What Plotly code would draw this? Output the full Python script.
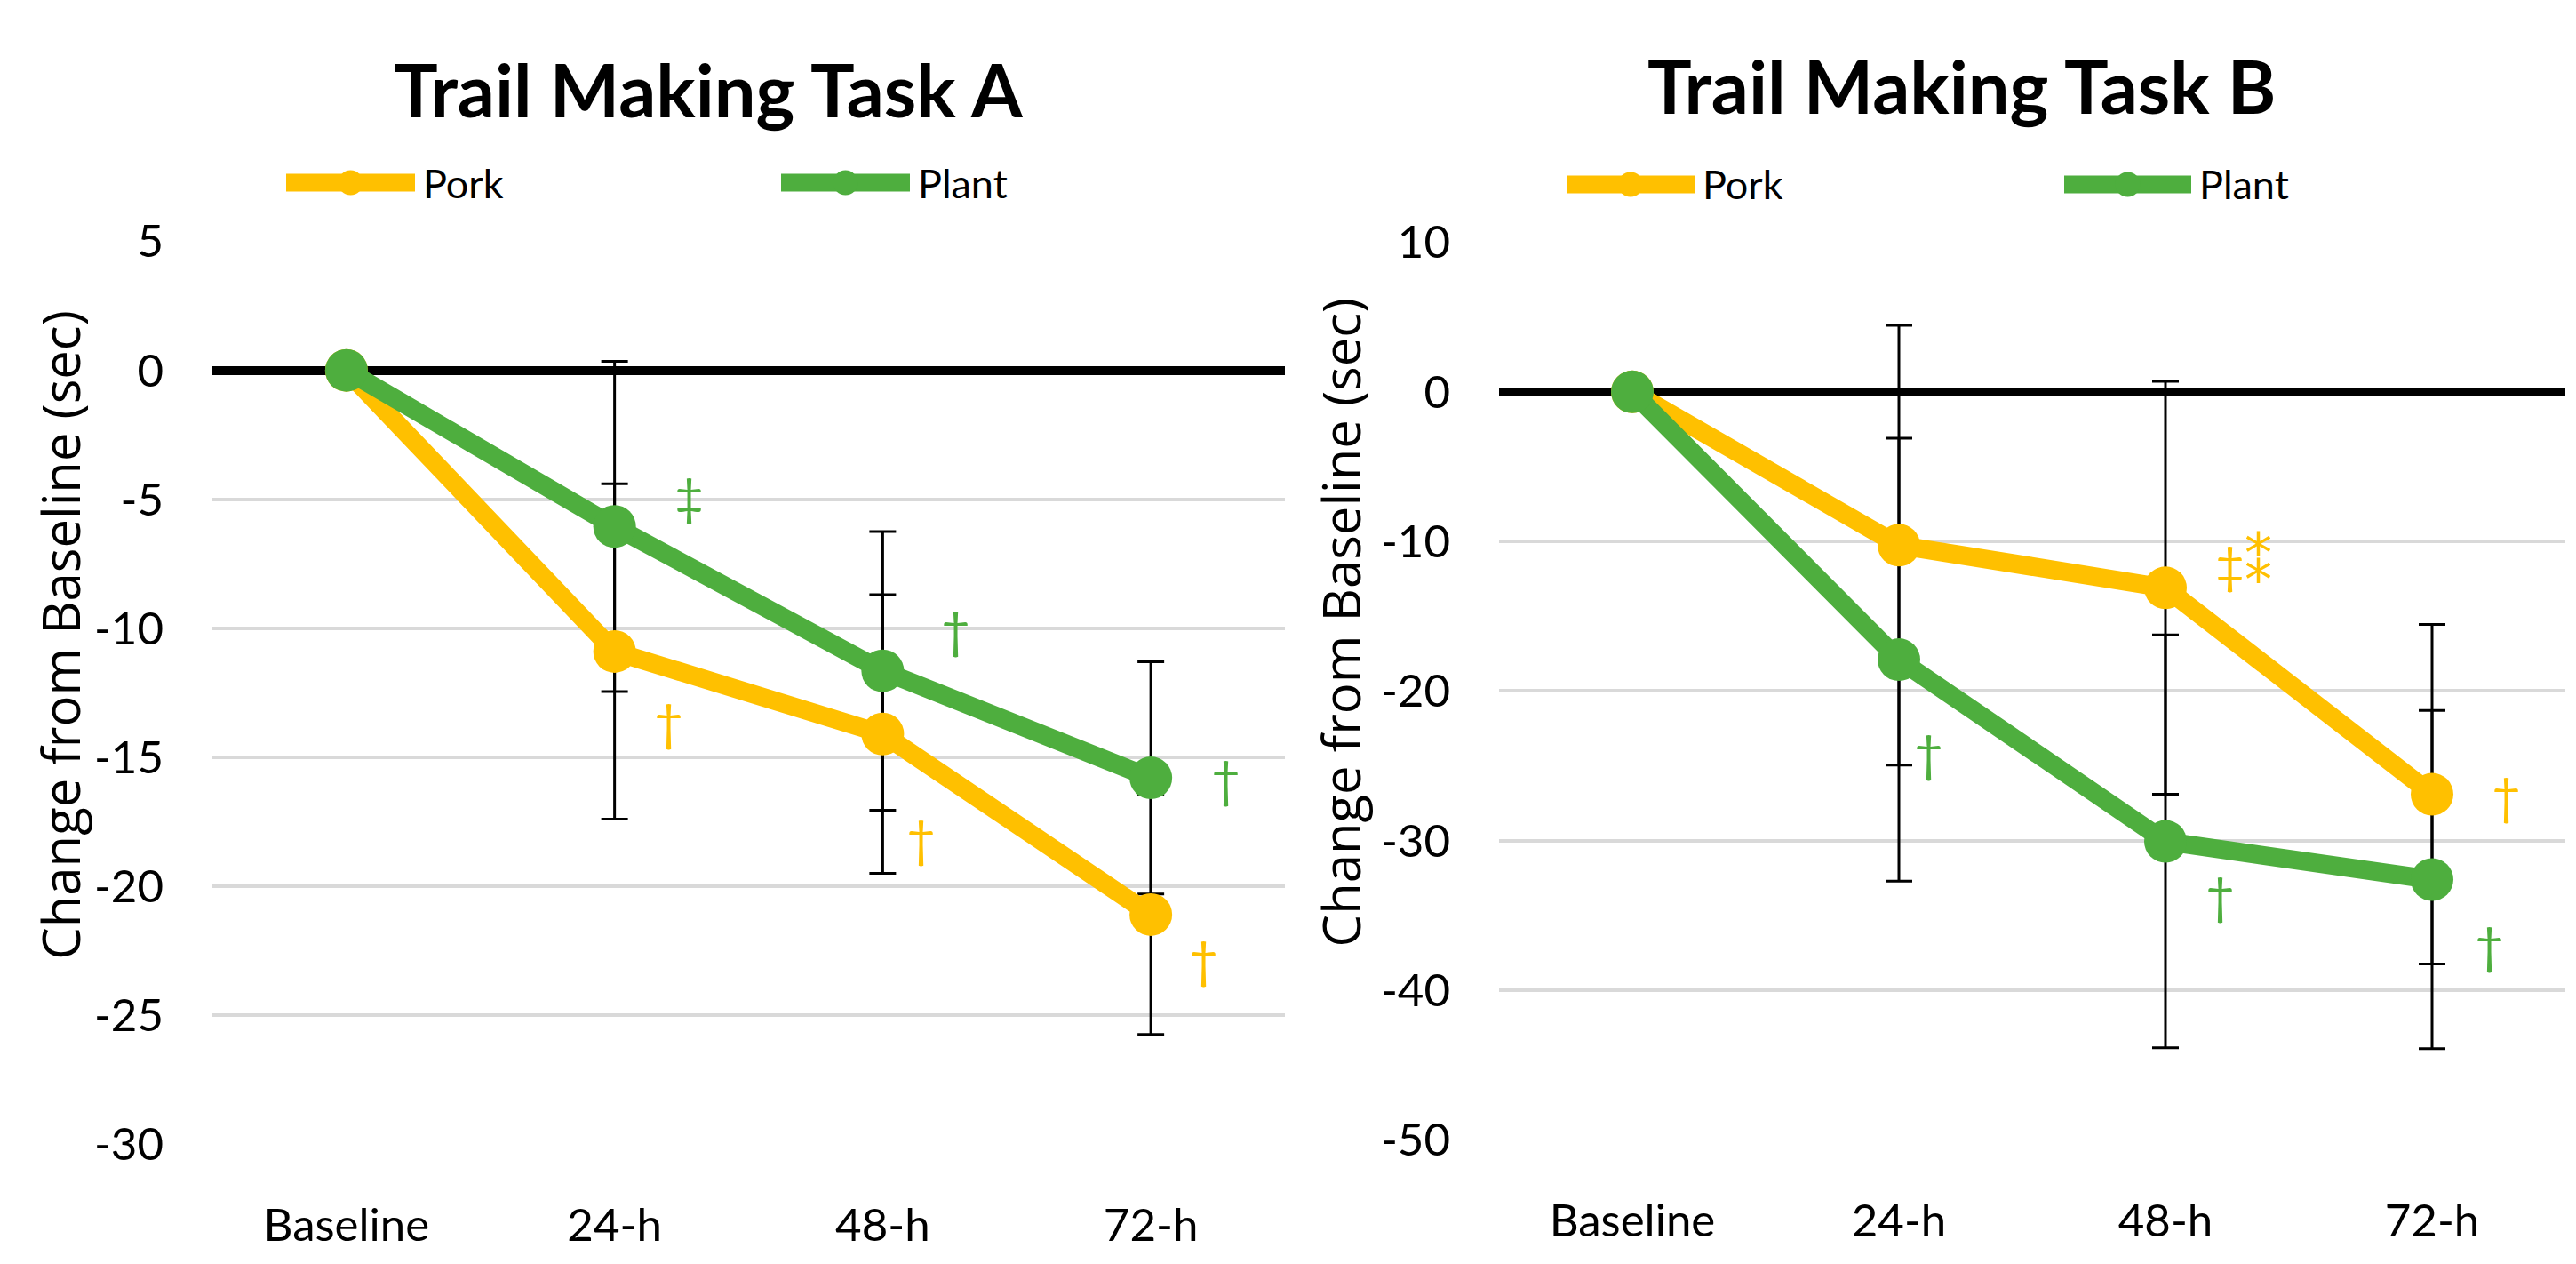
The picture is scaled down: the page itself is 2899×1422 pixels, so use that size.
import plotly.graph_objects as go

# time points on the x axis
time_points = ["Baseline", "24-h", "48-h", "72-h"]

# Trail Making Task A, change from baseline (sec), mean and error
task_a_pork = [0, -10.9, -14.1, -21.1]
task_a_pork_err = [0, 6.5, 5.4, 4.65]
task_a_plant = [0, -6.05, -11.65, -15.8]
task_a_plant_err = [0, 6.4, 5.4, 4.5]

# Trail Making Task B
task_b_pork = [0, -10.25, -13.1, -26.9]
task_b_pork_err = [0, 14.7, 13.8, 11.35]
task_b_plant = [0, -17.9, -30.05, -32.6]
task_b_plant_err = [0, 14.8, 13.8, 11.3]

# y ticks
a_tickvals = [5, 0, -5, -10, -15, -20, -25, -30]
a_ticktext = ["5", "0", "-5", "-10", "-15", "-20", "-25", "-30"]
b_tickvals = [10, 0, -10, -20, -30, -40, -50]
b_ticktext = ["10", "0", "-10", "-20", "-30", "-40", "-50"]

# significance marks: (text, group, time point, y)
sig_a = [("‡", "Plant", "24-h", -4.85), ("†", "Pork", "24-h", -13.6),
         ("†", "Plant", "48-h", -10.0), ("†", "Pork", "48-h", -18.1),
         ("†", "Plant", "72-h", -15.8), ("†", "Pork", "72-h", -22.8)]
sig_b = [("‡⁑", "Pork", "48-h", -11.5), ("†", "Plant", "24-h", -24.1),
         ("†", "Plant", "48-h", -33.6), ("†", "Pork", "72-h", -26.9),
         ("†", "Plant", "72-h", -36.9)]

PORK = "#FFC000"
PLANT = "#4EAE3E"
colors = {"Pork": PORK, "Plant": PLANT}
FONT = "Lato, Carlito, Calibri, sans-serif"
W, H = 2899, 1422

fig = go.Figure()


def add_panel(pork, pork_err, plant, plant_err, xa, ya):
    # error bars first so the markers sit on top of them
    for vals, errs in [(pork, pork_err), (plant, plant_err)]:
        fig.add_trace(go.Scatter(
            x=time_points, y=vals, mode="markers",
            marker=dict(size=1, opacity=0),
            error_y=dict(type="data", array=errs, visible=True,
                         color="black", thickness=3, width=15),
            xaxis=xa, yaxis=ya, showlegend=False, hoverinfo="skip"))
    for name, vals in [("Pork", pork), ("Plant", plant)]:
        fig.add_trace(go.Scatter(
            x=time_points, y=vals, mode="lines+markers", name=name,
            line=dict(color=colors[name], width=21),
            marker=dict(color=colors[name], size=48),
            xaxis=xa, yaxis=ya, showlegend=False))


add_panel(task_a_pork, task_a_pork_err, task_a_plant, task_a_plant_err, "x", "y")
add_panel(task_b_pork, task_b_pork_err, task_b_plant, task_b_plant_err, "x2", "y2")

xcommon = dict(type="category", categoryorder="array", categoryarray=time_points,
               range=[-0.5, 3.5], showgrid=False, showline=False, zeroline=False,
               ticks="", ticklabelstandoff=57,
               tickfont=dict(family=FONT, size=51, color="black"))
ycommon = dict(showgrid=True, gridcolor="#D9D9D9", gridwidth=4,
               zeroline=True, zerolinecolor="black", zerolinewidth=10,
               showline=False, ticks="", ticklabelstandoff=54,
               tickfont=dict(family=FONT, size=51, color="black"))

fig.update_layout(
    width=W, height=H, margin=dict(l=0, r=0, t=0, b=0),
    paper_bgcolor="white", plot_bgcolor="white", showlegend=False,
    xaxis=dict(domain=[231 / W, 1438 / W], anchor="y", **xcommon),
    yaxis=dict(domain=[1 - 1303 / H, 1 - 242 / H], anchor="x", range=[-30, 5],
               tickvals=a_tickvals, ticktext=a_ticktext, **ycommon),
    xaxis2=dict(domain=[1679 / W, 2879 / W], anchor="y2", **xcommon),
    yaxis2=dict(domain=[1 - 1298 / H, 1 - 243 / H], anchor="x2", range=[-50, 10],
                tickvals=b_tickvals, ticktext=b_ticktext, **ycommon),
)

# panel titles and y axis titles
for text, x, y in [("Trail Making Task A", 789, 63), ("Trail Making Task B", 2199, 58)]:
    fig.add_annotation(text="<b>%s</b>" % text, x=x / W, y=1 - y / H, xref="paper",
                       yref="paper", showarrow=False, xanchor="center", yanchor="middle",
                       font=dict(family=FONT, size=83, color="black"))
for x, y in [(60, 705), (1500, 690)]:
    fig.add_annotation(text="Change from Baseline (sec)", x=x / W, y=1 - y / H,
                       xref="paper", yref="paper", showarrow=False, textangle=-90,
                       xanchor="center", yanchor="middle",
                       font=dict(family="Open Sans, sans-serif", size=58, color="black"))

# legend keys drawn per panel
legend_items = [("Pork", 314, 459, 173), ("Plant", 871, 1016, 173),
                ("Pork", 1755, 1899, 175), ("Plant", 2315, 2458, 175)]
for name, x0, x1, yc in legend_items:
    c = colors[name]
    fig.add_shape(type="line", xref="paper", yref="paper", x0=x0 / W, x1=x1 / W,
                  y0=1 - yc / H, y1=1 - yc / H, line=dict(color=c, width=20))
    fig.add_shape(type="circle", xref="paper", yref="paper", xsizemode="pixel",
                  ysizemode="pixel", xanchor=(x0 + x1) / 2 / W, yanchor=1 - yc / H,
                  x0=-14, x1=14, y0=-14, y1=14, fillcolor=c, line=dict(width=0))
    fig.add_annotation(text=name, x=(x1 + 7) / W, y=1 - yc / H, xref="paper", yref="paper",
                       showarrow=False, xanchor="left", yanchor="middle",
                       font=dict(family=FONT, size=45, color="black"))

# significance marks next to the points
shift_a = {("‡", "Plant", "24-h"): 84, ("†", "Pork", "24-h"): 61,
           ("†", "Plant", "48-h"): 82, ("†", "Pork", "48-h"): 43,
           ("†", "Plant", "72-h"): 84, ("†", "Pork", "72-h"): 59}
for text, grp, tp, y in sig_a:
    fig.add_annotation(text=text, x=tp, y=y, xref="x", yref="y", showarrow=False,
                       xshift=shift_a[(text, grp, tp)], xanchor="center", yanchor="middle",
                       font=dict(family=FONT, size=57, color=colors[grp]))
shift_b = {("‡⁑", "Pork", "48-h"): 88,
           ("†", "Plant", "24-h"): 33, ("†", "Plant", "48-h"): 61,
           ("†", "Pork", "72-h"): 83, ("†", "Plant", "72-h"): 64}
for text, grp, tp, y in sig_b:
    label = text
    if "⁑" in text:
        label = text.replace(
            "⁑", '<span style="font-family:DejaVu Sans;font-size:62px">⁑</span>')
    fig.add_annotation(text=label, x=tp, y=y, xref="x2", yref="y2", showarrow=False,
                       xshift=shift_b[(text, grp, tp)], xanchor="center", yanchor="middle",
                       font=dict(family=FONT, size=57, color=colors[grp]))

fig.write_html("out.html")
